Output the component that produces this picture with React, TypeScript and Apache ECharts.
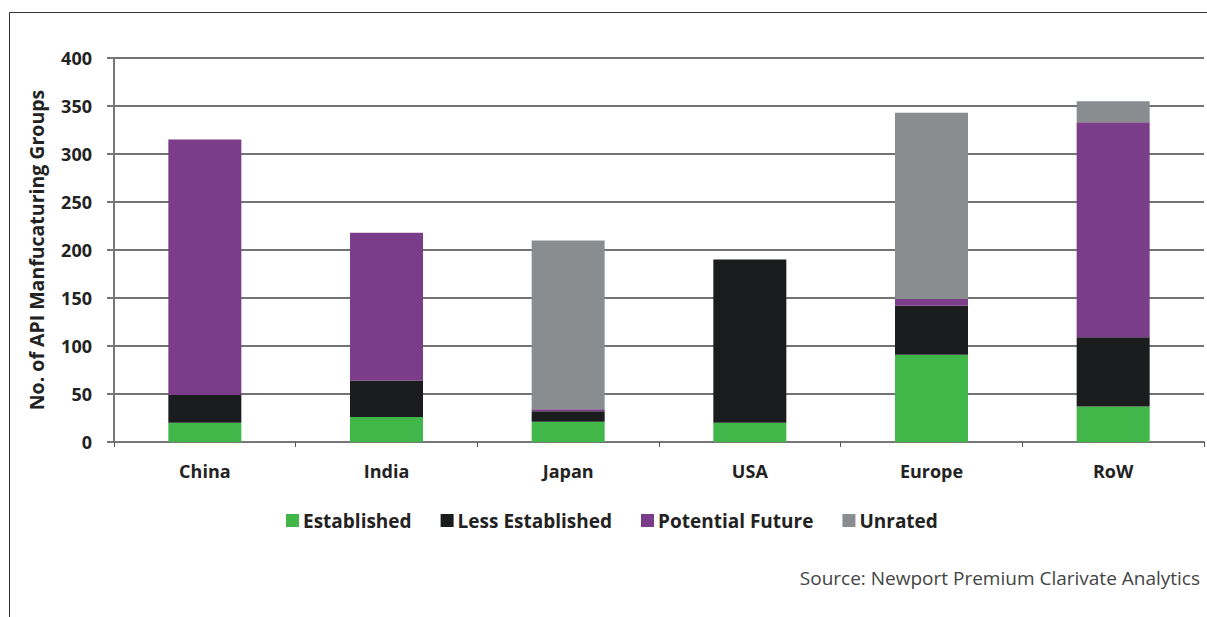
import React, { useEffect, useRef } from "react";
import * as echarts from "echarts";

const categories = ["China", "India", "Japan", "USA", "Europe", "RoW"];
const established = [20, 26, 21, 20, 91, 37];
const lessEstablished = [29, 38, 11, 170, 51, 72];
const potentialFuture = [266, 154, 2, 0, 7, 224];
const unrated = [0, 0, 176, 0, 194, 22];
const seriesNames = ["Established", "Less Established", "Potential Future", "Unrated"];
const colors = ["#41b649", "#1a1c1e", "#7b3c8a", "#8a8d90"];
const yTicks = { min: 0, max: 400, interval: 50 };

const FONT = "'Open Sans', 'Noto Sans', sans-serif";

export default function App() {
  const ref = useRef<HTMLDivElement>(null);
  useEffect(() => {
    if (!ref.current) return;
    const chart = echarts.init(ref.current, undefined, { renderer: "svg" });
    const dataSets = [established, lessEstablished, potentialFuture, unrated];
    chart.setOption({
      animation: false,
      backgroundColor: "#ffffff",
      textStyle: { fontFamily: FONT },
      grid: { left: 114, right: 3, top: 58, bottom: 175, containLabel: false },
      legend: {
        data: seriesNames,
        left: 281,
        top: 506,
        icon: "rect",
        itemWidth: 13,
        itemHeight: 13,
        itemGap: 29,
        textStyle: { fontFamily: FONT, fontSize: 19, fontWeight: 700, color: "#222", padding: [0, 0, 0, -1] },
      },
      xAxis: {
        type: "category",
        data: categories,
        axisLine: { lineStyle: { color: "#777", width: 2 } },
        axisTick: { show: true, length: 5, lineStyle: { color: "#555", width: 1 } },
        axisLabel: { margin: 20, fontFamily: FONT, fontSize: 18, fontWeight: 700, color: "#222" },
      },
      yAxis: {
        type: "value",
        min: yTicks.min,
        max: yTicks.max,
        interval: yTicks.interval,
        name: "No. of API Manfucaturing Groups",
        nameLocation: "middle",
        nameGap: 68,
        nameTextStyle: { fontFamily: FONT, fontSize: 19.5, fontWeight: 700, color: "#222" },
        axisLine: { show: true, lineStyle: { color: "#777", width: 2 } },
        axisTick: { show: true, inside: false, length: 7, lineStyle: { color: "#777", width: 2 } },
        splitLine: { show: true, lineStyle: { color: "#737373", width: 2 } },
        axisLabel: { margin: 22, fontFamily: FONT, fontSize: 18, fontWeight: 700, color: "#222" },
      },
      series: seriesNames.map((name, i) => ({
        name,
        type: "bar",
        stack: "total",
        barWidth: 73,
        data: dataSets[i],
        itemStyle: { color: colors[i] },
      })),
      graphic: [
        {
          type: "line",
          shape: { x1: 9.5, y1: 12.5, x2: 1207, y2: 12.5 },
          style: { stroke: "#333", lineWidth: 1 },
          silent: true,
        },
        {
          type: "line",
          shape: { x1: 9.5, y1: 12.5, x2: 9.5, y2: 617 },
          style: { stroke: "#333", lineWidth: 1 },
          silent: true,
        },
        {
          type: "text",
          right: 7,
          top: 568,
          style: {
            text: "Source: Newport Premium Clarivate Analytics",
            fontFamily: FONT,
            fontSize: 19,
            fill: "#444",
          },
        },
      ],
    });
    return () => chart.dispose();
  }, []);
  return (
    <div
      ref={ref}
      style={{ position: "absolute", left: 0, top: 0, width: 1207, height: 617 }}
    />
  );
}
